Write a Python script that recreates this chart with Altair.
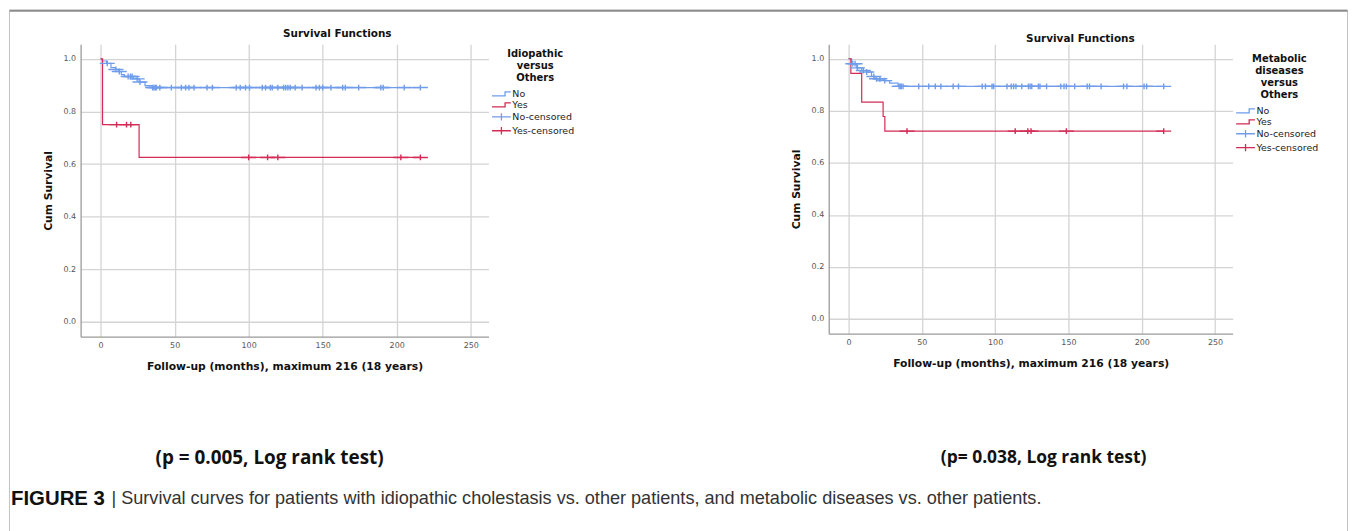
import altair as alt
import pandas as pd

# ---------------- data ----------------
groups = ["No", "Yes", "No-censored", "Yes-censored"]

# Left panel: Idiopathic versus Others
left_no_t = [0, 1, 4, 7, 10, 12, 14, 16, 22, 26, 30, 35, 216]
left_no_s = [1.0, 0.992, 0.983, 0.967, 0.96, 0.952, 0.94, 0.933, 0.924, 0.912, 0.898, 0.891, 0.891]
left_no_cens = [4.5, 10.3, 12.6, 18.6, 20.2, 21.3, 24.7, 26.6, 35.1, 36, 36.9, 37.7, 40, 47.8,
                54.5, 57.4, 59.7, 63.1, 71.9, 75.5, 91.6, 94.3, 97.9, 100.6, 109.2, 111.4, 114.6,
                115.9, 119.7, 123.6, 125, 126.5, 128.1, 131.4, 136.1, 145.5, 147.8, 150, 155.6,
                163.5, 165.3, 174.3, 189.3, 190.9, 205.1, 216]
left_yes_t = [0, 1.3, 26, 216]
left_yes_s = [1.0, 0.75, 0.625, 0.625]
left_yes_cens = [10.8, 17.5, 20.4, 100, 112.8, 119.7, 202.8, 216]

# Right panel: Metabolic diseases versus Others
right_no_t = [0, 2.2, 5.6, 9, 12.4, 15.7, 18, 24.7, 28.1, 33.8, 215]
right_no_s = [1.0, 0.981, 0.965, 0.955, 0.949, 0.932, 0.923, 0.916, 0.906, 0.894, 0.894]
right_no_cens = [2.9, 4.5, 6.1, 10.1, 12.4, 17.3, 19.1, 21.4, 24.7, 34.5, 35.3, 36, 37.2, 47.9,
                 54.7, 59.2, 63, 71.4, 75, 91.2, 93.4, 97.9, 99, 108.1, 111, 112.6, 114.2, 118.2,
                 122.7, 123.9, 125, 129.5, 130.6, 135.1, 144.8, 147, 148.6, 154.3, 162.8, 164.4,
                 172.3, 187.6, 189.9, 201.6, 203.4, 215]
right_yes_t = [0, 1.6, 9, 23.6, 24.8, 215]
right_yes_s = [1.0, 0.944, 0.833, 0.778, 0.722, 0.722]
right_yes_cens = [39.9, 113.7, 122.3, 124.5, 148.6, 215]

x_ticks = [0, 50, 100, 150, 200, 250]
y_ticks = [0.0, 0.2, 0.4, 0.6, 0.8, 1.0]

p_left = "(p = 0.005, Log rank test)"
p_right = "(p= 0.038, Log rank test)"
caption_bold = "FIGURE 3"
caption_rest = "| Survival curves for patients with idiopathic cholestasis vs. other patients, and metabolic diseases vs. other patients."

# ---------------- styling ----------------
BLUE = "#6f9ceb"
RED = "#d42a55"
FONT = "DejaVu Sans"
STEP = "M-1.8,0.38 H0.7 V-0.38 H1.8"
PLUS = "M-1.8,0 H1.8 M0,-0.7 V0.7"

# page positions of the plot areas
LX, LY = 80, 42.7
LW, RW = 410, 406
RX = 832
ANNW = 2
GAP = (RX - LX - LW - ANNW) / 2
AX = LX + LW + GAP  # page x of the (middle) annotation cell


def surv_at(ts, ss, t):
    v = ss[0]
    for ti, si in zip(ts, ss):
        if ti <= t:
            v = si
    return v


def panel(no_t, no_s, no_c, yes_t, yes_s, yes_c, legend_title, w, h, title_dx, title_dy, leg_y):
    lines = pd.DataFrame({
        "t": no_t + yes_t,
        "s": no_s + yes_s,
        "grp": ["No"] * len(no_t) + ["Yes"] * len(yes_t),
    })
    cens = pd.DataFrame({
        "t": no_c + yes_c,
        "s": [surv_at(no_t, no_s, t) for t in no_c] + [surv_at(yes_t, yes_s, t) for t in yes_c],
        "grp": ["No-censored"] * len(no_c) + ["Yes-censored"] * len(yes_c),
    })
    cscale = alt.Scale(domain=groups, range=[BLUE, RED, BLUE, RED])
    sscale = alt.Scale(domain=groups, range=[STEP, STEP, PLUS, PLUS])
    x = alt.X("t:Q", scale=alt.Scale(domain=[-13.5, 262], nice=False, zero=False),
              axis=alt.Axis(values=x_ticks, title="Follow-up (months), maximum 216 (18 years)",
                            format="d"))
    y = alt.Y("s:Q", scale=alt.Scale(domain=[-0.057, 1.056], nice=False, zero=False),
              axis=alt.Axis(values=y_ticks, title="Cum Survival", format=".1f"))
    leg = alt.Legend(title=legend_title, titleAlign="center", titleAnchor="middle",
                     titleFont=FONT, titleFontSize=10, titleFontWeight="bold",
                     titleLineHeight=12, titleColor="#111", titlePadding=5,
                     labelFont=FONT, labelFontSize=9.5, labelColor="#222",
                     symbolSize=110, symbolStrokeWidth=1.3, symbolFillColor="transparent",
                     labelOffset=5, padding=0, rowPadding=0,
                     orient="none", legendX=w + 7, legendY=leg_y)
    line = alt.Chart(lines).mark_line(interpolate="step-after", strokeWidth=1.2).encode(
        x=x, y=y,
        color=alt.Color("grp:N", scale=cscale, legend=leg),
        detail="grp:N",
    )
    pts = alt.Chart(cens).mark_point(filled=False, size=70, strokeWidth=1.4, opacity=1).encode(
        x="t:Q", y="s:Q",
        color=alt.Color("grp:N", scale=cscale, legend=leg),
        shape=alt.Shape("grp:N", scale=sscale, legend=leg),
    )
    return alt.layer(line, pts).properties(
        width=w, height=h,
        title=alt.TitleParams("Survival Functions", font=FONT, fontSize=10.5,
                              fontWeight="bold", color="#111", offset=5,
                              dx=title_dx, dy=title_dy),
    )


left = panel(left_no_t, left_no_s, left_no_cens, left_yes_t, left_yes_s, left_yes_cens,
             ["Idiopathic", "versus", "Others"], LW, 294, 53, 0, 5)
right = panel(right_no_t, right_no_s, right_no_cens, right_yes_t, right_yes_s, right_yes_cens,
              ["Metabolic", "diseases", "versus", "Others"], RW, 291, 50, 5, 10)

# ---------------- annotations and figure frame (own cell) ----------------
one = pd.DataFrame({"k": [0]})
base = alt.Chart(one)
frame = base.mark_rect(fill="white", fillOpacity=0, stroke="#c4c4c4", strokeWidth=1).encode(
    x=alt.value(8.5 - AX), x2=alt.value(1353.5 - AX), y=alt.value(8.5 - LY), y2=alt.value(540 - LY))
topline = base.mark_rule(color="#8c8c8c", strokeWidth=2).encode(
    x=alt.value(8.5 - AX), x2=alt.value(1353.5 - AX), y=alt.value(9 - LY))
pl = base.mark_text(text=p_left, font="Open Sans", fontWeight="bold", fontSize=19,
                    color="#111", align="center", baseline="middle").encode(
    x=alt.value(270 - AX), y=alt.value(459 - LY))
pr = base.mark_text(text=p_right, font="Open Sans", fontWeight="bold", fontSize=17.5,
                    color="#111", align="center", baseline="middle").encode(
    x=alt.value(1048 - AX), y=alt.value(459 - LY))
cb = base.mark_text(text=caption_bold, font="Liberation Sans", fontWeight="bold", fontSize=20.5,
                    color="#111", align="left", baseline="middle").encode(
    x=alt.value(10 - AX), y=alt.value(500 - LY))
cr = base.mark_text(text=caption_rest, font="Liberation Sans", fontSize=18.2,
                    color="#333", align="left", baseline="middle").encode(
    x=alt.value(111 - AX), y=alt.value(500 - LY))
ann = alt.layer(frame, topline, pl, pr, cb, cr).properties(width=ANNW, height=1)

chart = alt.hconcat(left, ann, right, spacing=GAP, bounds="flush").resolve_scale(
    color="independent", shape="independent"
).resolve_legend(color="independent", shape="independent").properties(
    padding=0,
).configure_view(stroke=None).configure_axis(
    grid=True, gridColor="#d4d4d4", gridWidth=1.3, ticks=False,
    domainColor="#9a9a9a", domainWidth=1.3,
    labelFont=FONT, labelFontSize=8, labelColor="#555", labelPadding=5,
    titleFont=FONT, titleFontSize=10.8, titleFontWeight="bold", titleColor="#111",
).configure_axisX(titlePadding=11, labelPadding=5).configure_axisY(titlePadding=10)

chart.save("out.html", embed_options={"renderer": "svg", "actions": False})
